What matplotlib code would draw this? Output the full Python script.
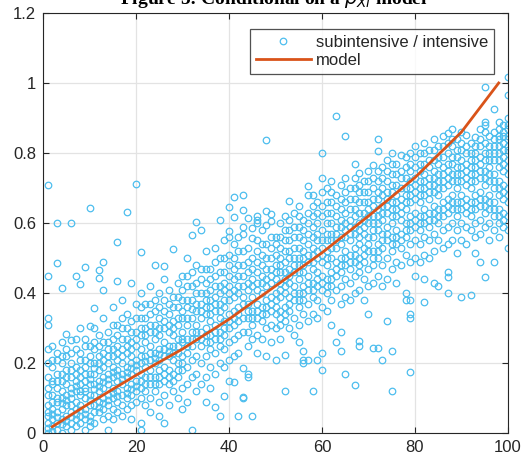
import matplotlib
matplotlib.use("Agg")
import matplotlib.pyplot as plt

# y values per integer x, grouped by decade (x = 1..100)
ys_01_10 = [
    [0.71, 0.45, 0.33, 0.31, 0.24, 0.2, 0.16, 0.13, 0.11, 0.08, 0.06, 0.05, 0.03, 0.015, 0.0],
    [0.25, 0.21, 0.19, 0.15, 0.14, 0.11, 0.09, 0.07, 0.055, 0.04, 0.02, 0.005],
    [0.60, 0.485, 0.23, 0.21, 0.17, 0.15, 0.13, 0.1, 0.09, 0.06, 0.045, 0.03, 0.01],
    [0.415, 0.26, 0.22, 0.2, 0.17, 0.15, 0.12, 0.1, 0.085, 0.07, 0.04, 0.025, 0.0],
    [0.284, 0.24, 0.22, 0.18, 0.16, 0.14, 0.11, 0.095, 0.08, 0.05, 0.035, 0.02],
    [0.60, 0.265, 0.23, 0.2, 0.18, 0.16, 0.13, 0.115, 0.1, 0.08, 0.06, 0.045, 0.03, 0.01],
    [0.449, 0.27, 0.24, 0.19, 0.17, 0.15, 0.135, 0.12, 0.09, 0.07, 0.055, 0.04, 0.02],
    [0.425, 0.3, 0.23, 0.21, 0.18, 0.16, 0.14, 0.12, 0.11, 0.08, 0.065, 0.05, 0.03],
    [0.474, 0.27, 0.25, 0.21, 0.19, 0.17, 0.15, 0.13, 0.12, 0.1, 0.07, 0.055, 0.04, 0.01],
    [0.643, 0.306, 0.25, 0.22, 0.2, 0.17, 0.155, 0.14, 0.11, 0.095, 0.08, 0.05, 0.035, 0.02],
]
ys_11_20 = [
    [0.356, 0.3, 0.26, 0.24, 0.2, 0.185, 0.17, 0.14, 0.125, 0.11, 0.08, 0.06, 0.03],
    [0.467, 0.442, 0.28, 0.25, 0.22, 0.2, 0.18, 0.15, 0.135, 0.12, 0.09, 0.075, 0.06],
    [0.488, 0.409, 0.33, 0.26, 0.23, 0.21, 0.19, 0.16, 0.145, 0.13, 0.1, 0.085, 0.07, 0.04],
    [0.29, 0.26, 0.24, 0.22, 0.2, 0.17, 0.155, 0.14, 0.11, 0.095, 0.08, 0.05, 0.01],
    [0.36, 0.31, 0.27, 0.24, 0.22, 0.19, 0.175, 0.16, 0.13, 0.115, 0.1, 0.07, 0.04],
    [0.547, 0.434, 0.31, 0.28, 0.25, 0.23, 0.21, 0.18, 0.165, 0.15, 0.12, 0.105, 0.09, 0.06],
    [0.38, 0.33, 0.3, 0.27, 0.24, 0.22, 0.2, 0.17, 0.155, 0.14, 0.11, 0.08, 0.05],
    [0.631, 0.34, 0.3, 0.27, 0.25, 0.23, 0.19, 0.175, 0.16, 0.13, 0.115, 0.1, 0.07],
    [0.43, 0.32, 0.29, 0.26, 0.24, 0.22, 0.2, 0.185, 0.17, 0.14, 0.125, 0.11, 0.08, 0.04],
    [0.711, 0.37, 0.33, 0.29, 0.27, 0.25, 0.21, 0.195, 0.18, 0.15, 0.135, 0.12, 0.09],
]
ys_21_30 = [
    [0.516, 0.4, 0.36, 0.33, 0.3, 0.28, 0.24, 0.22, 0.2, 0.17, 0.15, 0.13, 0.1, 0.03, 0.01],
    [0.37, 0.33, 0.3, 0.28, 0.26, 0.22, 0.205, 0.19, 0.16, 0.14, 0.12, 0.08],
    [0.42, 0.37, 0.34, 0.31, 0.29, 0.25, 0.23, 0.21, 0.18, 0.16, 0.14, 0.1, 0.06],
    [0.479, 0.38, 0.35, 0.31, 0.29, 0.27, 0.23, 0.215, 0.2, 0.16, 0.14, 0.12],
    [0.4, 0.36, 0.33, 0.3, 0.28, 0.24, 0.225, 0.21, 0.18, 0.16, 0.14, 0.09, 0.05],
    [0.478, 0.44, 0.38, 0.35, 0.32, 0.3, 0.26, 0.24, 0.22, 0.19, 0.17, 0.15, 0.11, 0.03],
    [0.41, 0.37, 0.34, 0.31, 0.29, 0.25, 0.235, 0.22, 0.18, 0.16, 0.14, 0.08],
    [0.527, 0.39, 0.36, 0.32, 0.3, 0.28, 0.25, 0.23, 0.21, 0.17, 0.15, 0.12],
    [0.43, 0.39, 0.36, 0.33, 0.31, 0.27, 0.25, 0.23, 0.2, 0.18, 0.16, 0.1],
    [0.45, 0.41, 0.38, 0.35, 0.33, 0.29, 0.27, 0.26, 0.22, 0.2, 0.18, 0.13, 0.07],
]
ys_31_40 = [
    [0.5, 0.45, 0.42, 0.38, 0.36, 0.33, 0.31, 0.27, 0.25, 0.23, 0.19, 0.14, 0.09],
    [0.565, 0.46, 0.42, 0.38, 0.355, 0.33, 0.29, 0.27, 0.25, 0.21, 0.16, 0.01],
    [0.604, 0.48, 0.43, 0.4, 0.37, 0.35, 0.31, 0.29, 0.27, 0.22, 0.17, 0.12],
    [0.579, 0.47, 0.44, 0.4, 0.37, 0.35, 0.33, 0.29, 0.27, 0.25, 0.2, 0.14],
    [0.52, 0.47, 0.43, 0.4, 0.38, 0.36, 0.34, 0.3, 0.28, 0.26, 0.22, 0.16, 0.09],
    [0.47, 0.44, 0.41, 0.38, 0.36, 0.34, 0.32, 0.28, 0.26, 0.24, 0.19, 0.13],
    [0.53, 0.49, 0.45, 0.42, 0.39, 0.37, 0.35, 0.31, 0.29, 0.27, 0.23, 0.17, 0.075],
    [0.608, 0.5, 0.46, 0.42, 0.4, 0.37, 0.35, 0.33, 0.29, 0.27, 0.25, 0.2, 0.05],
    [0.55, 0.5, 0.46, 0.43, 0.41, 0.38, 0.36, 0.32, 0.3, 0.28, 0.24, 0.19, 0.106],
    [0.646, 0.578, 0.56, 0.51, 0.48, 0.45, 0.42, 0.4, 0.38, 0.34, 0.32, 0.3, 0.26, 0.21, 0.15],
]
ys_41_50 = [
    [0.675, 0.617, 0.54, 0.5, 0.47, 0.44, 0.41, 0.39, 0.35, 0.33, 0.31, 0.27, 0.22, 0.145],
    [0.56, 0.52, 0.48, 0.45, 0.42, 0.4, 0.36, 0.34, 0.32, 0.28, 0.23, 0.05],
    [0.68, 0.638, 0.59, 0.57, 0.52, 0.48, 0.45, 0.42, 0.39, 0.37, 0.33, 0.29, 0.186, 0.104, 0.1],
    [0.613, 0.53, 0.49, 0.46, 0.43, 0.41, 0.37, 0.35, 0.33, 0.29, 0.25, 0.17, 0.16],
    [0.586, 0.556, 0.5, 0.47, 0.44, 0.42, 0.39, 0.35, 0.33, 0.31, 0.27, 0.05],
    [0.62, 0.61, 0.6, 0.55, 0.52, 0.49, 0.46, 0.43, 0.41, 0.37, 0.35, 0.33, 0.28, 0.23],
    [0.58, 0.54, 0.51, 0.48, 0.45, 0.43, 0.4, 0.36, 0.34, 0.32, 0.27],
    [0.837, 0.633, 0.594, 0.54, 0.5, 0.47, 0.44, 0.42, 0.38, 0.36, 0.34, 0.3, 0.22],
    [0.625, 0.606, 0.56, 0.53, 0.5, 0.47, 0.45, 0.43, 0.39, 0.37, 0.35, 0.31, 0.26],
    [0.56, 0.54, 0.51, 0.48, 0.46, 0.44, 0.4, 0.38, 0.36, 0.34, 0.3, 0.21],
]
ys_51_60 = [
    [0.6, 0.56, 0.53, 0.5, 0.48, 0.46, 0.43, 0.41, 0.39, 0.35, 0.33, 0.31, 0.27],
    [0.62, 0.58, 0.55, 0.52, 0.49, 0.46, 0.44, 0.42, 0.4, 0.36, 0.34, 0.32, 0.222, 0.121],
    [0.664, 0.61, 0.58, 0.55, 0.52, 0.5, 0.47, 0.45, 0.43, 0.39, 0.37, 0.35, 0.3],
    [0.63, 0.59, 0.56, 0.53, 0.5, 0.48, 0.46, 0.42, 0.4, 0.38, 0.33, 0.28],
    [0.65, 0.62, 0.59, 0.56, 0.53, 0.5, 0.48, 0.46, 0.44, 0.4, 0.38, 0.36, 0.31, 0.26],
    [0.61, 0.58, 0.55, 0.52, 0.5, 0.48, 0.46, 0.42, 0.4, 0.38, 0.34, 0.235, 0.21, 0.2],
    [0.705, 0.68, 0.63, 0.6, 0.57, 0.54, 0.51, 0.49, 0.45, 0.43, 0.41, 0.37, 0.32, 0.21],
    [0.68, 0.65, 0.62, 0.59, 0.56, 0.53, 0.51, 0.49, 0.47, 0.43, 0.41, 0.39, 0.34, 0.121],
    [0.66, 0.63, 0.6, 0.57, 0.55, 0.52, 0.5, 0.46, 0.44, 0.42, 0.38, 0.33, 0.21],
    [0.8, 0.73, 0.69, 0.65, 0.62, 0.58, 0.55, 0.53, 0.51, 0.49, 0.45, 0.43, 0.41, 0.36, 0.23, 0.18],
]
ys_61_70 = [
    [0.7, 0.66, 0.63, 0.6, 0.57, 0.55, 0.52, 0.5, 0.48, 0.44, 0.42, 0.4, 0.35],
    [0.72, 0.69, 0.66, 0.63, 0.6, 0.57, 0.55, 0.53, 0.5, 0.46, 0.44, 0.42, 0.38, 0.31],
    [0.906, 0.68, 0.65, 0.62, 0.59, 0.57, 0.55, 0.53, 0.49, 0.47, 0.45, 0.41, 0.26],
    [0.71, 0.67, 0.64, 0.61, 0.59, 0.56, 0.54, 0.5, 0.48, 0.46, 0.42, 0.37, 0.29, 0.233],
    [0.849, 0.73, 0.69, 0.66, 0.63, 0.6, 0.58, 0.56, 0.52, 0.5, 0.48, 0.44, 0.39, 0.169],
    [0.7, 0.67, 0.64, 0.61, 0.59, 0.57, 0.55, 0.51, 0.49, 0.47, 0.43, 0.38],
    [0.77, 0.73, 0.7, 0.67, 0.64, 0.62, 0.59, 0.57, 0.53, 0.51, 0.49, 0.45, 0.4, 0.138],
    [0.742, 0.71, 0.69, 0.66, 0.63, 0.6, 0.58, 0.56, 0.54, 0.5, 0.48, 0.46, 0.41, 0.264, 0.25],
    [0.72, 0.69, 0.66, 0.63, 0.61, 0.59, 0.57, 0.53, 0.51, 0.49, 0.44, 0.38],
    [0.75, 0.72, 0.69, 0.66, 0.64, 0.62, 0.6, 0.56, 0.54, 0.52, 0.47, 0.42, 0.34],
]
ys_71_80 = [
    [0.765, 0.73, 0.7, 0.67, 0.65, 0.62, 0.6, 0.58, 0.56, 0.52, 0.5, 0.48, 0.43, 0.243],
    [0.839, 0.805, 0.75, 0.72, 0.69, 0.67, 0.64, 0.62, 0.6, 0.58, 0.54, 0.52, 0.5, 0.45, 0.243],
    [0.76, 0.73, 0.7, 0.68, 0.65, 0.63, 0.61, 0.57, 0.55, 0.53, 0.48, 0.42, 0.21],
    [0.78, 0.75, 0.72, 0.69, 0.67, 0.65, 0.63, 0.59, 0.57, 0.55, 0.5, 0.44, 0.32],
    [0.8, 0.77, 0.74, 0.71, 0.69, 0.66, 0.64, 0.62, 0.6, 0.56, 0.54, 0.52, 0.47, 0.233, 0.121],
    [0.77, 0.74, 0.71, 0.68, 0.66, 0.64, 0.62, 0.58, 0.56, 0.54, 0.49, 0.43],
    [0.795, 0.75, 0.73, 0.7, 0.67, 0.65, 0.63, 0.61, 0.57, 0.55, 0.53, 0.48],
    [0.79, 0.76, 0.73, 0.7, 0.68, 0.66, 0.64, 0.6, 0.58, 0.56, 0.51, 0.4, 0.38],
    [0.8, 0.77, 0.75, 0.72, 0.7, 0.68, 0.66, 0.62, 0.6, 0.58, 0.54, 0.49, 0.38, 0.34, 0.33, 0.174],
    [0.82, 0.79, 0.76, 0.73, 0.71, 0.69, 0.67, 0.63, 0.61, 0.59, 0.55, 0.5, 0.45],
]
ys_81_90 = [
    [0.8, 0.77, 0.75, 0.72, 0.7, 0.68, 0.66, 0.62, 0.6, 0.58, 0.54, 0.49],
    [0.83, 0.8, 0.77, 0.74, 0.72, 0.7, 0.68, 0.64, 0.62, 0.6, 0.56, 0.51, 0.44, 0.375],
    [0.81, 0.78, 0.76, 0.73, 0.71, 0.69, 0.67, 0.63, 0.61, 0.59, 0.55, 0.5],
    [0.84, 0.81, 0.78, 0.75, 0.73, 0.71, 0.69, 0.65, 0.63, 0.61, 0.57, 0.52, 0.43],
    [0.82, 0.79, 0.77, 0.74, 0.72, 0.7, 0.68, 0.64, 0.62, 0.6, 0.55, 0.42],
    [0.85, 0.82, 0.79, 0.76, 0.74, 0.72, 0.7, 0.66, 0.64, 0.62, 0.58, 0.53],
    [0.856, 0.83, 0.8, 0.77, 0.75, 0.73, 0.71, 0.67, 0.65, 0.63, 0.59, 0.54, 0.46, 0.445, 0.4],
    [0.87, 0.84, 0.82, 0.79, 0.77, 0.74, 0.72, 0.68, 0.66, 0.64, 0.6, 0.55],
    [0.84, 0.81, 0.79, 0.76, 0.74, 0.72, 0.7, 0.66, 0.64, 0.62, 0.58, 0.515],
    [0.86, 0.83, 0.81, 0.78, 0.76, 0.74, 0.72, 0.68, 0.66, 0.64, 0.6, 0.55, 0.39],
]
ys_91_100 = [
    [0.851, 0.82, 0.8, 0.77, 0.75, 0.73, 0.71, 0.67, 0.65, 0.63, 0.59, 0.54],
    [0.83, 0.8, 0.78, 0.76, 0.74, 0.72, 0.7, 0.66, 0.64, 0.62, 0.58, 0.394],
    [0.845, 0.82, 0.8, 0.78, 0.76, 0.74, 0.72, 0.68, 0.66, 0.64, 0.6, 0.56, 0.513],
    [0.87, 0.84, 0.82, 0.79, 0.77, 0.75, 0.73, 0.69, 0.67, 0.65, 0.61, 0.57, 0.49],
    [0.988, 0.89, 0.88, 0.86, 0.83, 0.8, 0.78, 0.75, 0.73, 0.71, 0.67, 0.65, 0.63, 0.59, 0.446],
    [0.85, 0.82, 0.8, 0.78, 0.76, 0.74, 0.72, 0.68, 0.66, 0.64, 0.6, 0.55],
    [0.927, 0.86, 0.84, 0.82, 0.8, 0.78, 0.74, 0.72, 0.7, 0.66, 0.64, 0.62, 0.58, 0.49],
    [0.89, 0.87, 0.85, 0.84, 0.82, 0.8, 0.78, 0.76, 0.72, 0.7, 0.68, 0.64, 0.62, 0.6, 0.56],
    [0.88, 0.86, 0.85, 0.83, 0.81, 0.79, 0.77, 0.75, 0.71, 0.69, 0.67, 0.63, 0.61, 0.59],
    [1.016, 0.966, 0.9, 0.88, 0.87, 0.85, 0.84, 0.82, 0.81, 0.78, 0.76, 0.74, 0.7, 0.68, 0.66, 0.62, 0.58, 0.53],
]

# fitted model curve
model_x = [2, 10, 20, 30, 40, 50, 60, 70, 80, 90, 98]
model_y = [0.018, 0.085, 0.165, 0.24, 0.325, 0.42, 0.515, 0.62, 0.73, 0.86, 1.0]

x_ticks = [0, 20, 40, 60, 80, 100]
y_ticks = [0, 0.2, 0.4, 0.6, 0.8, 1.0, 1.2]
y_tick_labels = ["0", "0.2", "0.4", "0.6", "0.8", "1", "1.2"]

groups = [ys_01_10, ys_11_20, ys_21_30, ys_31_40, ys_41_50,
          ys_51_60, ys_61_70, ys_71_80, ys_81_90, ys_91_100]
px, py = [], []
for g, block in enumerate(groups):
    for i, col in enumerate(block):
        xv = g * 10 + i + 1
        px.extend([xv] * len(col))
        py.extend(col)

plt.rcParams["font.family"] = ["Liberation Sans", "DejaVu Sans"]

fig = plt.figure(figsize=(5.26, 4.63), dpi=100)
ax = fig.add_axes([43 / 526, 1 - 433 / 463, 465 / 526, 420 / 463])

dark = "#262626"
ax.plot(px, py, linestyle="none", marker="o", ms=4.7, mfc="none",
        mec="#4DBEEE", mew=0.9, label="subintensive / intensive")
ax.plot(model_x, model_y, color="#D95319", lw=2.0, label="model")

ax.set_xlim(0, 100)
ax.set_ylim(0, 1.2)
ax.set_xticks(x_ticks)
ax.set_yticks(y_ticks)
ax.set_yticklabels(y_tick_labels)
ax.grid(True, color="#e3e3e3", lw=0.9)
ax.set_axisbelow(True)
ax.tick_params(direction="in", length=4, width=0.8, colors=dark,
               labelsize=12, top=True, right=True, pad=5)
for s in ax.spines.values():
    s.set_color(dark)
    s.set_linewidth(0.8)

leg = ax.legend(loc="upper right", bbox_to_anchor=(0.970, 0.962),
                borderaxespad=0, fontsize=12, frameon=True, fancybox=False,
                handlelength=3.3, handletextpad=0.3, labelspacing=0.2,
                borderpad=0.35)
leg.get_frame().set_edgecolor(dark)
leg.get_frame().set_linewidth(0.9)
for t in leg.get_texts():
    t.set_color(dark)

# title sits mostly above the canvas, as in the source image
fig.text(0.52, 1 - 4 / 463, r"Figure 5: Conditional on a $p_{Xl}$ model",
         ha="center", va="baseline", fontsize=14, fontweight="bold",
         family=["Liberation Serif", "DejaVu Serif"])

fig.savefig("out.png", dpi=100)
